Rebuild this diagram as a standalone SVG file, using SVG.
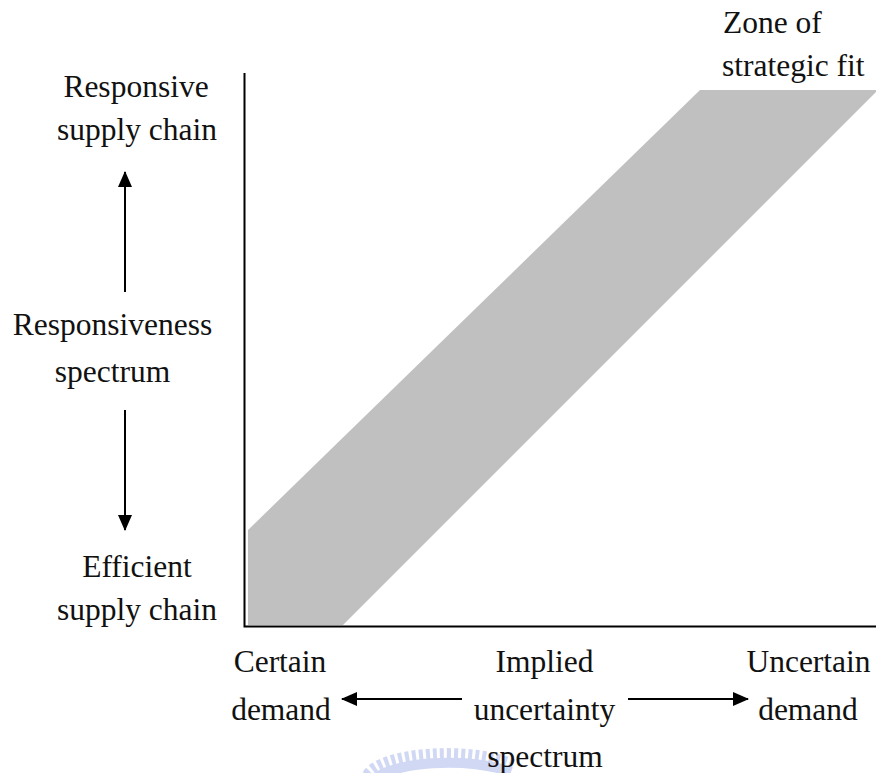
<svg xmlns="http://www.w3.org/2000/svg" width="876" height="773" viewBox="0 0 876 773">
  <defs>
    <marker id="head" viewBox="0 0 16 14" refX="15" refY="7" markerWidth="16" markerHeight="14" markerUnits="userSpaceOnUse" orient="auto">
      <path d="M0,0 L16,7 L0,14 Z" fill="#000"/>
    </marker>
  </defs>
  <style>
    text { font-family: "Liberation Serif", "Times New Roman", serif; font-size: 31.5px; fill: #111; }
    .mid { text-anchor: middle; }
    .axis { stroke: #000; stroke-width: 2; fill: none; }
    .arrow { stroke: #000; stroke-width: 2; fill: none; marker-end: url(#head); }
  </style>
  <rect width="876" height="773" fill="#fff"/>

  <!-- faint seal behind the bottom label -->
  <g id="seal" opacity="0.4">
    <path d="M368,775 A80,25 0 0 1 515,766" fill="none" stroke="#8f9fe6" stroke-width="12" stroke-dasharray="4 3"/>
    <path d="M372,781 A80,25 0 0 1 511,772" fill="none" stroke="#8f9fe6" stroke-width="10"/>
  </g>

  <!-- zone of strategic fit band -->
  <g id="zone">
    <polygon points="248,530 700,90 876,90 876,92 343,625 248,625" fill="#c0c0c0"/>
  </g>

  <!-- axes -->
  <g id="axes">
    <path class="axis" d="M244.5,73 V626.5 H876"/>
  </g>

  <!-- spectrum arrows -->
  <g id="connectors">
    <line class="arrow" x1="125" y1="292" x2="125" y2="172"/>
    <line class="arrow" x1="125" y1="410" x2="125" y2="530"/>
    <line class="arrow" x1="462" y1="699" x2="342" y2="699"/>
    <line class="arrow" x1="628" y1="699" x2="748" y2="699"/>
  </g>

  <g id="label-responsive">
    <text class="mid" x="136" y="97">Responsive</text>
    <text class="mid" x="137" y="140">supply chain</text>
  </g>
  <g id="label-responsiveness">
    <text class="mid" x="112.5" y="335">Responsiveness</text>
    <text class="mid" x="112.5" y="382">spectrum</text>
  </g>
  <g id="label-efficient">
    <text class="mid" x="137" y="577">Efficient</text>
    <text class="mid" x="137" y="620">supply chain</text>
  </g>
  <g id="label-certain">
    <text class="mid" x="280" y="672">Certain</text>
    <text class="mid" x="281" y="720">demand</text>
  </g>
  <g id="label-implied">
    <text class="mid" x="544.5" y="672">Implied</text>
    <text class="mid" x="544.5" y="720">uncertainty</text>
    <text class="mid" x="545" y="767">spectrum</text>
  </g>
  <g id="label-uncertain">
    <text class="mid" x="808.5" y="672">Uncertain</text>
    <text class="mid" x="808" y="720">demand</text>
  </g>
  <g id="label-zone">
    <text x="723" y="33">Zone of</text>
    <text x="722" y="76">strategic fit</text>
  </g>
</svg>
